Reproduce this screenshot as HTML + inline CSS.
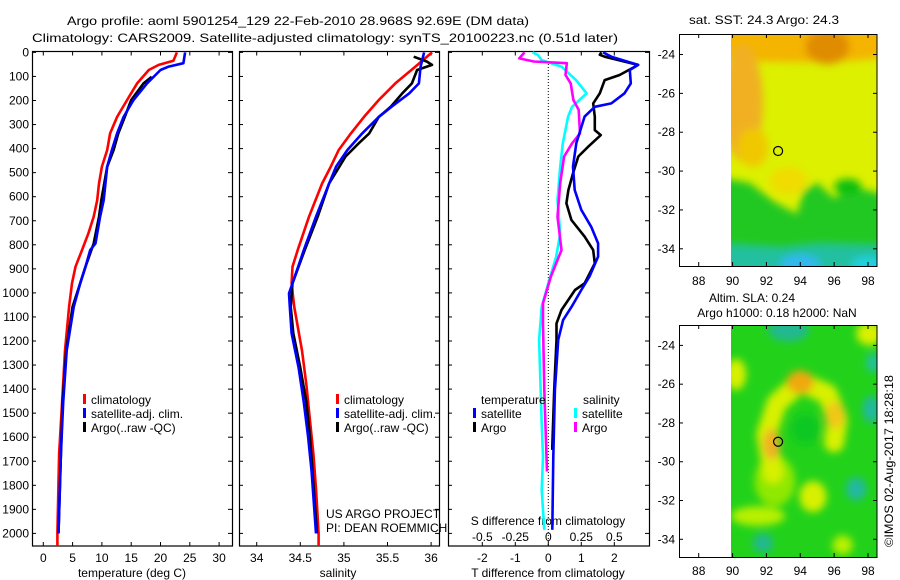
<!DOCTYPE html>
<html><head><meta charset="utf-8"><style>
html,body{margin:0;padding:0;background:#fff;}
svg{display:block;font-family:"Liberation Sans",sans-serif;}
text{font-size:12px;fill:#000;}
</style></head><body>
<svg id="chart" width="900" height="580" viewBox="0 0 900 580" xmlns="http://www.w3.org/2000/svg">
<defs>
<filter id="blur1" x="-10%" y="-10%" width="120%" height="120%"><feGaussianBlur stdDeviation="4"/></filter>
<filter id="blur2" x="-10%" y="-10%" width="120%" height="120%"><feGaussianBlur stdDeviation="4"/></filter>
<clipPath id="clip1"><rect x="32" y="51" width="200" height="495"/></clipPath>
<clipPath id="clip2"><rect x="239" y="51" width="200" height="495"/></clipPath>
<clipPath id="clip3"><rect x="448" y="51" width="201" height="495"/></clipPath>
<clipPath id="clipm1"><rect x="731" y="34" width="146" height="232"/></clipPath>
<clipPath id="clipm2"><rect x="731" y="325" width="146" height="233"/></clipPath>
</defs>
<text x="298" y="25" text-anchor="middle" textLength="462" lengthAdjust="spacingAndGlyphs">Argo profile: aoml 5901254_129 22-Feb-2010 28.968S 92.69E (DM data)</text>
<text x="325" y="42" text-anchor="middle" textLength="586" lengthAdjust="spacingAndGlyphs">Climatology: CARS2009. Satellite-adjusted climatology: synTS_20100223.nc (0.51d later)</text>
<text x="764" y="24" text-anchor="middle" textLength="150" lengthAdjust="spacingAndGlyphs">sat. SST: 24.3  Argo: 24.3</text>
<text x="752" y="302" text-anchor="middle">Altim. SLA: 0.24</text>
<text x="777" y="317" text-anchor="middle">Argo h1000: 0.18 h2000: NaN</text>
<text transform="translate(893,461) rotate(-90)" text-anchor="middle" textLength="172" lengthAdjust="spacingAndGlyphs">©IMOS 02-Aug-2017 18:28:18</text>
<g id="g"></g>
</svg>
<script>
// ---- data (depth in dbar) ----
const climTdepth = [0,35,52,73,129,198,268,337,406,475,545,614,683,752,822,891,960,1057,1240,1455,1670,2000,2053];
const climTvals  = [22.8,22.2,19.7,18.0,16.0,14.3,12.6,11.4,10.9,10.0,9.5,9.2,8.6,7.7,6.6,5.5,4.9,4.4,3.7,3.2,2.7,2.4,2.4];
const satTdepth = [0,45,59,73,129,198,268,337,406,475,614,683,794,822,891,960,1057,1240,1455,1670,2000];
const satTvals  = [24.2,23.9,21.4,20.0,17.7,15.4,13.7,12.6,11.7,10.9,10.3,9.7,8.9,8.0,7.2,6.3,5.2,4.0,3.4,3.0,2.6];
const argoTdepth = [101,129,198,268,337,406,475,614,683,794,891,960,1057,1240,1455,1670,2000];
const argoTvals  = [18.5,17.1,15.0,13.9,12.8,12.0,10.9,9.9,9.5,8.6,7.2,6.3,5.0,3.9,3.3,3.0,2.6];

const climSdepth = [0,59,129,198,268,337,406,475,545,683,822,891,960,1057,1240,1383,1527,1670,1814,2000,2053];
const climSvals  = [36.01,35.82,35.59,35.40,35.23,35.08,34.94,34.85,34.75,34.60,34.47,34.41,34.40,34.43,34.52,34.57,34.61,34.65,34.68,34.71,34.71];
const satSdepth = [0,59,129,170,225,268,337,406,475,545,683,822,960,1002,1057,1168,1311,1455,1598,1742,2000];
const satSvals  = [35.92,35.88,35.86,35.75,35.55,35.40,35.21,35.04,34.91,34.83,34.68,34.54,34.41,34.37,34.38,34.40,34.48,34.54,34.59,34.63,34.68];
const argoSdepth = [18,38,52,73,129,170,225,268,337,378,433,545,683,822,960,1057,1168,1311,1455,1598,1742,2000];
const argoSvals  = [35.80,35.95,36.01,35.84,35.78,35.67,35.54,35.40,35.29,35.17,35.02,34.83,34.70,34.55,34.41,34.39,34.42,34.50,34.57,34.61,34.64,34.69];

const satDTdepth = [0,18,52,73,129,170,212,226,267,378,475,572,655,725,794,849,932,988,1057,1113,1196,1404,1681,1985];
const satDTvals  = [1.66,1.91,2.72,2.47,2.50,2.31,1.91,1.41,1.10,0.85,0.75,0.80,1.00,1.30,1.51,1.51,1.25,1.00,0.71,0.45,0.30,0.20,0.15,0.12];
const argoDTdepth = [0,10,18,52,94,115,170,212,267,323,344,392,433,503,572,627,697,766,822,877,960,988,1071,1127,1196,1404,1639,1653];
const argoDTvals  = [1.61,1.56,1.71,2.72,2.16,1.71,1.56,1.36,1.41,1.41,1.59,1.21,0.91,0.75,0.61,0.55,0.70,1.10,1.36,1.41,1.10,0.81,0.40,0.25,0.25,0.18,0.12,0.12];
const satDSdepth = [0,10,32,59,115,136,170,226,267,378,475,614,752,849,960,1057,1196,1542,1681,1819,1985];
const satDSvals  = [-0.12,-0.08,-0.05,0.10,0.21,0.24,0.29,0.18,0.15,0.11,0.09,0.07,0.09,0.06,0.00,-0.05,-0.07,-0.05,-0.04,-0.05,-0.03];
const argoDSdepth = [0,25,38,45,94,129,198,239,337,378,433,544,683,822,932,1043,1127,1404,1743];
const argoDSvals  = [-0.18,-0.22,-0.11,0.14,0.13,0.17,0.19,0.23,0.24,0.18,0.12,0.09,0.07,0.10,0.02,-0.04,-0.04,-0.03,-0.01];

const depthTicks = [0,100,200,300,400,500,600,700,800,900,1000,1100,1200,1300,1400,1500,1600,1700,1800,1900,2000];
const tempTicks = [0,5,10,15,20,25,30];
const salTicks = [34,34.5,35,35.5,36];
const salTickLabels = ["34","34.5","35","35.5","36"];
const dTTicks = [-2,-1,0,1,2];
const dSTicks = [-0.5,-0.25,0,0.25,0.5];
const dSTickLabels = ["-0.5","-0.25","0","0.25","0.5"];
const lonTicks = [88,90,92,94,96,98];
const latTicks = [-24,-26,-28,-30,-32,-34];
const argoLon = [92.69];
const argoLat = [-28.968];

// ---- scales ----
const yD = d => 52.4 + d*0.2405;
const xT = t => 43.3 + t*5.86;
const xS = s => 256.7 + (s-34)*87.2;
const xDT = t => 548.3 + t*33;
const xDS = s => 548.3 + s*132;
const lonX = lo => 698.7 + (lo-88)*16.93;
const lat1Y = la => 54.5 + (-24-la)*19.43;
const lat2Y = la => 345.4 + (-24-la)*19.39;

const NS="http://www.w3.org/2000/svg";
const G=document.getElementById('g');
function mk(tag,attrs,parent){const e=document.createElementNS(NS,tag);for(const k in attrs)e.setAttribute(k,attrs[k]);(parent||G).appendChild(e);return e;}
function txt(x,y,s,anchor,parent){const t=mk('text',{x:x,y:y,'text-anchor':anchor||'middle'},parent);t.textContent=s;return t;}

// ---- profile panels ----
const panels=[[32,232],[239,439],[448,649]];
panels.forEach((p,i)=>{
  const r=mk('rect',{x:p[0]+0.5,y:51.5,width:p[1]-p[0],height:494.5,fill:'none',stroke:'#000','stroke-width':1.2});
  
  
  depthTicks.forEach(d=>{
    mk('line',{x1:p[0],x2:p[0]+4,y1:yD(d),y2:yD(d),stroke:'#000'});
    mk('line',{x1:p[1]-4,x2:p[1],y1:yD(d),y2:yD(d),stroke:'#000'});
  });
});
depthTicks.forEach(d=>{
  const t=txt(29,yD(d)+4,String(d),'end');
  
  
});
function xTicks(vals,fx,labels,ly){
  vals.forEach((v,i)=>{
    const x=fx(v);
    mk('line',{x1:x,x2:x,y1:546,y2:542,stroke:'#000'});
    mk('line',{x1:x,x2:x,y1:51.5,y2:55.5,stroke:'#000'});
    if(labels){const t=txt(x,ly,labels[i]);
      
      }
  });
}
xTicks(tempTicks,xT,tempTicks.map(String),562);
xTicks(salTicks,xS,salTickLabels,562);
xTicks(dTTicks,xDT,dTTicks.map(String),562);
dSTicks.forEach((v,i)=>{const t=txt(xDS(v),541,dSTickLabels[i]);
  
  });
let a;
a=txt(132,577,'temperature (deg C)');
a=txt(338,577,'salinity');
a=txt(548,577,'T difference from climatology');
a=txt(548,525,'S difference from climatology');
mk('line',{x1:548.3,x2:548.3,y1:52,y2:546,stroke:'#000','stroke-dasharray':'1,2'});

function series(dep,vals,fx,color,clip,name){
  const pts=dep.map((d,i)=>fx(vals[i]).toFixed(1)+','+yD(d).toFixed(1)).join(' ');
  const pl=mk('polyline',{points:pts,fill:'none',stroke:color,'stroke-width':2.6,'clip-path':'url(#'+clip+')','stroke-linejoin':'round'});
  
  
}
series(climTdepth,climTvals,xT,'#f00','clip1','temp-climatology-line');
series(argoTdepth,argoTvals,xT,'#000','clip1','temp-argo-line');
series(satTdepth,satTvals,xT,'#00f','clip1','temp-satellite-line');
series(climSdepth,climSvals,xS,'#f00','clip2','sal-climatology-line');
series(argoSdepth,argoSvals,xS,'#000','clip2','sal-argo-line');
series(satSdepth,satSvals,xS,'#00f','clip2','sal-satellite-line');
series(satDSdepth,satDSvals,xDS,'#0ff','clip3','s-diff-satellite-line');
series(argoDSdepth,argoDSvals,xDS,'#f0f','clip3','s-diff-argo-line');
series(argoDTdepth,argoDTvals,xDT,'#000','clip3','t-diff-argo-line');
series(satDTdepth,satDTvals,xDT,'#00f','clip3','t-diff-satellite-line');

function legend(x,y,color,label,name){
  const g=mk('g',{});
  
  
  mk('rect',{x:x,y:y-10,width:3,height:10,fill:color},g);
  txt(x+8,y,label,'start',g);
}
legend(83,404,'#f00','climatology','legend-climatology');
legend(83,418,'#00f','satellite-adj. clim.','legend-satellite-adj');
legend(83,432,'#000','Argo(..raw -QC)','legend-argo');
legend(336,404,'#f00','climatology','legend-climatology-2');
legend(336,418,'#00f','satellite-adj. clim.','legend-satellite-adj-2');
legend(336,432,'#000','Argo(..raw -QC)','legend-argo-2');
a=txt(481,404,'temperature','start');
a=txt(583,404,'salinity','start');
legend(473,418,'#00f','satellite','legend-t-satellite');
legend(473,432,'#000','Argo','legend-t-argo');
legend(574,418,'#0ff','satellite','legend-s-satellite');
legend(574,432,'#f0f','Argo','legend-s-argo');
a=txt(326,518,'US ARGO PROJECT','start');
a=txt(326,532,'PI: DEAN ROEMMICH','start');

// ---- maps ----
function mapImage(clip,top,fy,blobs,base,fid,name){
  const g=mk('g',{'clip-path':'url(#'+clip+')'});
  
  
  mk('rect',{x:731,y:top,width:146,height:235,fill:base},g);
  const gb=mk('g',{filter:'url(#'+fid+')'},g);
  blobs.forEach(b=>{
    if(b.poly){mk('polygon',{points:b.poly.map(p=>lonX(p[0])+','+fy(p[1])).join(' '),fill:b.c},gb);}
    else if(b.line){mk('polyline',{points:b.line.map(p=>lonX(p[0])+','+fy(p[1])).join(' '),fill:'none',stroke:b.c,'stroke-width':b.sw,'stroke-linecap':'round','stroke-linejoin':'round'},gb);}
    else mk('ellipse',{cx:lonX(b.lo),cy:fy(b.la),rx:b.rx*16.9,ry:b.ry*19.4,fill:b.c},gb);
  });
}
mapImage('clipm1',30,lat1Y,[
  {lo:94,la:-23.3,rx:8,ry:1.1,c:'#f4b400'},
  {lo:90.6,la:-26.5,rx:1.2,ry:3,c:'#f0b020'},
  {lo:95.6,la:-23.6,rx:1.3,ry:0.9,c:'#e08c00'},
  {lo:91.2,la:-28.8,rx:0.9,ry:1,c:'#f0c800'},
  {lo:93.3,la:-30.5,rx:1.1,ry:0.7,c:'#f0dc00'},
  {poly:[[89,-30.3],[91,-30.6],[92.5,-31.6],[93.8,-32.2],[94.2,-31],[95,-30.6],[96,-31.4],[97,-30.8],[99,-31.2],[99,-36],[89,-36]],c:'#22c822'},
  {lo:96.8,la:-30.8,rx:0.8,ry:0.4,c:'#10c010'},
  {poly:[[89,-33.8],[93,-34],[95,-33.8],[99,-33.9],[99,-36],[89,-36]],c:'#20c0a0'},
  {lo:94,la:-34.8,rx:1.2,ry:0.5,c:'#30b8f0'},
  {lo:98,la:-34.8,rx:1,ry:0.4,c:'#20d0e0'}
],'#dcf000','blur1','sst-map-image');
mapImage('clipm2',322,lat2Y,[
  {lo:92.5,la:-31,rx:1.2,ry:1.3,c:'#90e800'},
  {line:[[92.4,-30.6],[92.0,-28.6],[92.6,-27.0],[94.0,-25.9],[95.6,-26.5],[96.2,-27.8],[96.0,-29.0]],c:'#d8f000',sw:20},
  {lo:94.3,la:-28.3,rx:0.9,ry:0.8,c:'#10c820'},
  {lo:94,la:-25.9,rx:0.8,ry:0.6,c:'#f0a810'},
  {lo:96.05,la:-27.6,rx:0.6,ry:0.7,c:'#f0c818'},
  {lo:92.3,la:-29.1,rx:0.5,ry:0.8,c:'#f0b020'},
  {lo:90.2,la:-25.5,rx:0.6,ry:0.8,c:'#d8f000'},
  {lo:98.1,la:-23.4,rx:0.8,ry:0.6,c:'#d8f000'},
  {lo:94.75,la:-31.8,rx:0.8,ry:0.8,c:'#d8f000'},
  {lo:91.5,la:-32.8,rx:1.6,ry:0.5,c:'#b8f000'},
  {lo:93.3,la:-23.2,rx:1.2,ry:0.6,c:'#20b890'},
  {lo:98.2,la:-27.3,rx:0.5,ry:0.7,c:'#20b8a0'},
  {lo:98.3,la:-24.9,rx:0.4,ry:0.5,c:'#20c0a0'},
  {lo:97.3,la:-31.4,rx:0.6,ry:0.6,c:'#20b8a0'},
  {lo:91.8,la:-34.2,rx:0.6,ry:0.5,c:'#20b890'},
  {lo:96.5,la:-34.3,rx:0.6,ry:0.5,c:'#b8f000'}
],'#22d21a','blur2','sla-map-image');

function mapAxes(top,bottom,fy,ly,name){
  const r=mk('rect',{x:679.5,y:top+0.5,width:197.5,height:bottom-top,fill:'none',stroke:'#000'});
  
  
  lonTicks.forEach(lo=>{
    const x=lonX(lo);
    mk('line',{x1:x,x2:x,y1:bottom,y2:bottom-4,stroke:'#000'});
    mk('line',{x1:x,x2:x,y1:top,y2:top+4,stroke:'#000'});
    const t=txt(x,ly,String(lo));
    
    
  });
  latTicks.forEach(la=>{
    const y=fy(la);
    mk('line',{x1:679,x2:683,y1:y,y2:y,stroke:'#000'});
    mk('line',{x1:873,x2:877,y1:y,y2:y,stroke:'#000'});
    const t=txt(675,y+4,String(la),'end');
    
    
  });
  argoLon.forEach((lo,i)=>{
    const c=mk('circle',{cx:lonX(lo),cy:fy(argoLat[i]),r:4.5,fill:'none',stroke:'#000','stroke-width':1.2});
    
    
  });
}
mapAxes(34,266,lat1Y,285,'sst-map-frame');
mapAxes(325,557,lat2Y,575,'sla-map-frame');
</script>
</body></html>
